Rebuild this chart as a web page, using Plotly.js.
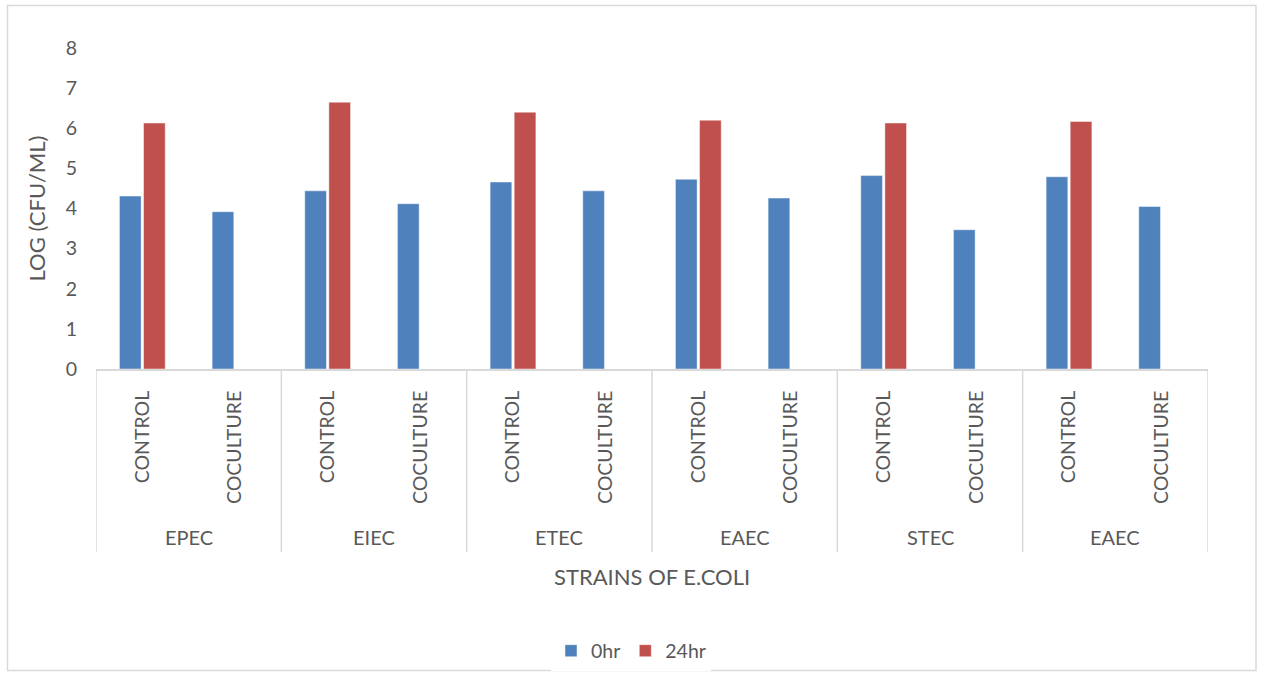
<!DOCTYPE html>
<html>
<head>
<meta charset="utf-8">
<script src="https://cdn.plot.ly/plotly-3.0.1.min.js"></script>
<style>html,body{margin:0;padding:0;background:#fff;}#chart{width:1261px;height:673px;}</style>
</head>
<body>
<div id="chart"></div>
<script>
const strains = ['EPEC', 'EIEC', 'ETEC', 'EAEC', 'STEC', 'EAEC'];
const treatments = ['CONTROL', 'COCULTURE'];
const hr0 = [4.31, 3.92, 4.44, 4.12, 4.66, 4.44, 4.73, 4.26, 4.82, 3.47, 4.79, 4.05];
const hr24 = [6.13, null, 6.65, null, 6.40, null, 6.20, null, 6.13, null, 6.17, null];
const yTicks = [0, 1, 2, 3, 4, 5, 6, 7, 8];

const FONT = 'Lato, "Open Sans", sans-serif';
const TXT = '#595959';
const GRID = '#d9d9d9';

const xs = [], xl = [];
strains.forEach((s, i) => treatments.forEach((t, j) => { xs.push(i * treatments.length + j); xl.push(t); }));

const traces = [
  {type: 'bar', name: '0hr', x: xs, y: hr0, marker: {color: '#4F81BD', line: {color: 'rgba(255,255,255,0.45)', width: 1}}},
  {type: 'bar', name: '24hr', x: xs, y: hr24, marker: {color: '#C0504D', line: {color: 'rgba(255,255,255,0.45)', width: 1}}}
];

const plotTop = 48, plotBottom = 369, plotH = plotBottom - plotTop;
const plotL = 96, plotR = 1208, plotW = plotR - plotL;
const py = p => (plotBottom - p) / plotH;
const px = p => (p - plotL) / plotW;

const shapes = [];
for (let i = 0; i <= strains.length; i++) {
  const xv = i * treatments.length - 0.5;
  shapes.push({type: 'line', xref: 'x', yref: 'paper', x0: xv, x1: xv, y0: 0, y1: py(552), line: {color: GRID, width: 1.5}});
}
shapes.push({type: 'rect', xref: 'paper', yref: 'paper', x0: px(7.5), x1: px(1256), y0: py(5.5), y1: py(670.5), line: {color: GRID, width: 1.5}});

const annotations = strains.map((s, i) => ({
  text: s, xref: 'x', yref: 'paper', x: i * treatments.length + (treatments.length - 1) / 2, y: py(537),
  showarrow: false, font: {family: FONT, size: 20, color: TXT}, xanchor: 'center', yanchor: 'middle'
}));
annotations.push({text: 'STRAINS OF E.COLI', xref: 'paper', yref: 'paper', x: 0.5, y: py(576), showarrow: false,
  font: {family: FONT, size: 22, color: TXT}, xanchor: 'center', yanchor: 'middle'});

const layout = {
  width: 1261, height: 673,
  margin: {l: plotL, r: 1261 - plotR, t: plotTop, b: 673 - plotBottom, autoexpand: false},
  paper_bgcolor: '#fff', plot_bgcolor: '#fff',
  barmode: 'group', bargap: 0.48, bargroupgap: 0.1,
  font: {family: FONT, size: 19.5, color: TXT},
  xaxis: {
    type: 'linear', range: [-0.5, xs.length - 0.5], tickvals: xs, ticktext: xl, tickangle: -90,
    showgrid: false, zeroline: false, showline: true, linecolor: GRID, linewidth: 2, ticks: '',
    ticklabelstandoff: 12, tickfont: {family: FONT, size: 19.5, color: TXT}, fixedrange: true
  },
  yaxis: {
    range: [0, 8], tickvals: yTicks, showgrid: false, zeroline: false, showline: false, ticks: '',
    ticklabelstandoff: 18, tickfont: {family: FONT, size: 19.5, color: TXT},
    title: {text: 'LOG (CFU/ML)', font: {family: FONT, size: 22, color: TXT}, standoff: 13}
  },
  showlegend: true,
  legend: {orientation: 'h', x: 0.5 - 21 / plotW, xanchor: 'center', y: py(651), yanchor: 'middle',
    font: {family: FONT, size: 19.5, color: TXT}, traceorder: 'normal', itemwidth: 30},
  shapes: shapes,
  annotations: annotations
};

Plotly.newPlot('chart', traces, layout, {displayModeBar: false, staticPlot: true});
</script>
</body>
</html>
